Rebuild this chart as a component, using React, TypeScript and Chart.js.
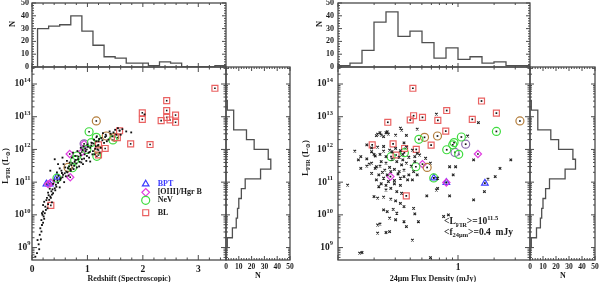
import React, { useEffect, useRef } from 'react';
import { Chart, registerables } from 'chart.js';

Chart.register(...registerables);

// ================= DATA =================
// Top-left histogram: redshift bins
const zHistEdges = [0.1, 0.3, 0.5, 0.7, 0.9, 1.1, 1.3, 1.5, 1.7, 1.9, 2.1, 2.3, 2.5, 2.7, 2.9, 3.1, 3.3, 3.5];
const zHistCounts = [30, 32, 33, 40, 28, 17, 8, 7, 3, 3, 1, 4, 3, 0, 0, 0, 1];

// Top-right histogram: log10 of 24um flux (mJy)
const fluxHistLogEdges = [-1.0, -0.9, -0.8, -0.7, -0.6, -0.5, -0.4, -0.3, -0.2, -0.1, 0.0, 0.1, 0.2, 0.3, 0.4, 0.5, 0.6];
const fluxHistCounts = [1, 3, 13, 35, 43, 24, 28, 19, 7, 15, 6, 8, 3, 4, 1, 1];

// Side histograms: log10 L_FIR
const lfirHistLogEdges = [9.0, 9.3, 9.6, 9.9, 10.2, 10.5, 10.8, 11.1, 11.4, 11.7, 12.0, 12.3, 12.6, 12.9, 13.2, 13.5];
const lfirHistCounts = [1, 5, 8, 9, 10, 12, 15, 27, 35, 33, 22, 16, 6, 6, 1];

// Left panel: [redshift, log10 L_FIR]
const zAll = [
  [0.06, 8.72], [0.09, 8.83], [0.13, 8.95], [0.10, 9.23], [0.14, 9.39], [0.17, 9.49], [0.15, 9.59], [0.18, 9.69],
  [0.20, 9.76], [0.17, 9.84], [0.21, 9.95], [0.19, 10.0], [0.23, 10.05], [0.20, 10.10], [0.25, 10.15], [0.24, 10.25],
  [0.20, 10.30], [0.29, 10.33], [0.22, 10.40], [0.31, 10.46], [0.27, 10.52], [0.33, 10.56], [0.36, 10.62], [0.38, 10.66],
  [0.29, 10.68], [0.35, 10.72], [0.42, 10.75], [0.41, 10.81], [0.32, 10.80], [0.44, 10.86], [0.50, 10.84], [0.38, 10.95],
  [0.47, 10.98], [0.58, 11.0], [0.40, 11.05], [0.51, 11.07], [0.55, 11.15], [0.48, 11.20], [0.56, 11.22], [0.66, 11.20],
  [0.59, 11.27], [0.45, 11.30], [0.62, 11.32], [0.53, 11.35], [0.70, 11.35], [0.75, 11.40], [0.50, 11.42], [0.65, 11.42],
  [0.60, 11.45], [0.85, 11.48], [0.71, 11.52], [0.57, 11.55], [0.92, 11.55], [0.80, 11.57], [0.68, 11.60], [0.77, 11.62],
  [0.86, 11.62], [1.05, 11.63], [0.63, 11.65], [0.98, 11.65], [0.41, 11.70], [0.83, 11.70], [0.90, 11.70], [0.72, 11.75],
  [1.03, 11.75], [0.78, 11.80], [0.88, 11.82], [0.95, 11.85], [1.13, 11.85], [0.74, 11.90], [1.02, 11.90], [1.22, 11.90],
  [0.82, 11.95], [0.97, 11.95], [1.10, 11.95], [1.18, 12.0], [0.88, 12.05], [1.05, 12.05], [0.93, 12.10], [1.15, 12.10],
  [1.00, 12.15], [1.08, 12.20], [1.30, 12.20], [1.20, 12.25], [1.12, 12.30], [1.38, 12.30], [1.25, 12.35], [1.17, 12.40],
  [1.45, 12.40], [1.33, 12.45], [1.60, 12.45], [1.28, 12.50], [1.79, 12.52], [1.40, 12.55], [1.70, 12.55], [1.50, 12.60],
  [1.55, 12.65], [2.03, 13.07],
  [0.26, 10.45], [0.30, 10.60], [0.34, 10.52], [0.37, 10.78], [0.43, 10.92], [0.46, 11.05], [0.52, 11.12], [0.54, 11.28],
  [0.61, 11.18], [0.64, 11.30], [0.67, 11.48], [0.69, 11.40], [0.73, 11.58], [0.76, 11.50], [0.79, 11.68], [0.81, 11.45],
  [0.84, 11.78], [0.87, 11.88], [0.89, 11.60], [0.91, 11.98], [0.94, 11.72], [0.96, 12.02], [0.99, 11.80], [1.01, 12.08],
  [1.04, 11.92], [1.07, 12.12], [1.09, 11.85], [1.11, 12.18], [1.14, 12.02], [1.16, 12.25], [1.19, 12.12], [1.21, 12.32],
  [1.24, 12.05], [1.27, 12.28], [1.32, 12.38], [1.35, 12.25], [1.42, 12.48], [1.47, 12.52], [1.52, 12.45], [1.58, 12.58],
  [1.63, 12.62], [0.16, 9.25], [0.12, 9.10], [0.22, 9.88], [0.28, 10.20], [0.18, 10.05], [0.36, 10.38], [0.33, 11.35],
  [0.47, 11.55], [0.55, 11.75],
];
const zBL = [
  [3.30, 13.87], [2.43, 13.49], [2.43, 13.19], [1.99, 13.12], [1.99, 12.92], [2.59, 13.05], [2.59, 12.83], [2.33, 12.88],
  [2.43, 12.98], [2.49, 12.90], [1.58, 12.57], [1.54, 12.36], [1.78, 12.17], [2.13, 12.15], [1.32, 12.03], [1.20, 12.14],
  [1.20, 11.83], [0.34, 10.29],
];
const zNeVBL = [[1.16, 12.87], [1.34, 12.41], [1.49, 12.37], [0.65, 11.45], [1.20, 11.98]];
const zNeV = [
  [1.03, 12.54], [1.16, 12.37], [1.07, 12.21], [0.99, 12.00], [1.46, 12.29], [1.17, 11.79], [0.81, 11.80], [0.77, 11.68],
  [0.73, 11.44], [0.45, 11.12],
];
const zNeVOIII = [[0.94, 12.17]];
const zOIII = [[0.94, 12.17], [0.90, 11.92], [0.68, 11.86], [0.69, 11.15], [0.29, 10.94], [0.34, 10.98]];
const zBPT = [[0.45, 11.15], [0.26, 10.94], [0.32, 10.94]];

// Right panel: [log10 f24 (mJy), log10 L_FIR]
const fAll = [
  [-0.18, 13.08], [0.17, 12.82], [0.08, 12.41], [-0.48, 12.65], [-0.67, 12.47], [-0.64, 12.44], [-0.60, 12.51], [-0.59, 12.54],
  [-0.65, 12.51], [-0.68, 12.42], [-0.62, 12.39], [-0.58, 12.47], [-0.52, 12.44], [-0.47, 12.59], [-0.34, 12.62], [-0.43, 12.43],
  [-0.76, 12.14], [-0.72, 12.05], [-0.67, 12.07], [-0.62, 12.09], [-0.57, 11.98], [-0.52, 12.03], [-0.48, 11.96], [-0.43, 12.07],
  [-0.38, 11.98], [-0.34, 11.88], [-0.72, 11.93], [-0.81, 11.78], [-0.76, 11.71], [-0.69, 11.80], [-0.65, 11.85], [-0.60, 11.78],
  [-0.55, 11.93], [-0.49, 11.76], [-0.46, 11.68], [-0.41, 11.76], [-0.36, 11.78], [-0.32, 11.83], [-0.27, 11.73], [-0.23, 11.58],
  [-0.83, 11.68], [-0.81, 11.42], [-0.76, 11.49], [-0.72, 11.58], [-0.68, 11.47], [-0.64, 11.63], [-0.60, 11.58], [-0.51, 11.63],
  [-0.47, 11.53], [-0.43, 11.58], [-0.39, 11.49], [-0.36, 11.63], [-0.69, 11.42], [-0.65, 11.49], [-0.61, 11.37], [-0.59, 11.22],
  [-0.72, 11.27], [-0.66, 11.22], [-0.62, 11.12], [-0.56, 11.32], [-0.53, 11.39], [-0.49, 11.32], [-0.45, 11.37], [-0.41, 11.22],
  [-0.37, 11.32], [-0.34, 11.22], [-0.68, 11.07], [-0.64, 10.95], [-0.58, 11.02], [-0.53, 10.95], [-0.48, 11.12], [-0.45, 11.17],
  [-0.42, 11.07], [-0.38, 11.07], [-0.17, 11.12], [-0.04, 11.22], [-0.02, 11.47], [-0.07, 11.47], [0.13, 11.68], [-0.17, 10.81],
  [0.35, 11.42], [0.44, 11.68], [0.25, 11.09], [0.31, 11.17], [-0.66, 10.86], [-0.60, 10.76], [-0.56, 10.81], [-0.51, 10.71],
  [-0.47, 10.66], [-0.70, 10.56], [-0.67, 10.51], [-0.62, 10.54], [-0.56, 10.48], [-0.52, 10.43], [-0.48, 10.35], [-0.62, 10.15],
  [-0.59, 10.10], [-0.54, 10.17], [-0.51, 10.05], [-0.45, 10.25], [-0.37, 10.20], [-0.26, 10.58], [-0.18, 10.76], [-0.07, 10.58],
  [0.13, 10.46], [0.22, 10.71], [-0.57, 9.90], [-0.52, 9.85], [-0.67, 9.69], [-0.65, 9.72], [-0.45, 9.79], [-0.36, 10.03],
  [-0.33, 9.79], [-0.67, 9.44], [-0.60, 9.46], [-0.57, 9.49], [-0.43, 9.64], [-0.38, 9.23], [-0.80, 8.85], [-0.82, 8.83],
  [-0.08, 10.0], [-0.92, 10.91], [-0.23, 8.69], [-0.12, 9.95],
  [-0.70, 11.85], [-0.62, 11.95], [-0.55, 11.70], [-0.46, 11.85], [-0.74, 11.55], [-0.57, 11.45], [-0.50, 11.25], [-0.63, 11.30],
  [-0.53, 11.05], [-0.60, 10.90], [-0.48, 10.90], [-0.86, 11.95], [-0.45, 12.20],
];
const fBL = [
  [-0.376, 13.87], [0.196, 13.48], [-0.094, 13.19], [-0.37, 13.03], [-0.296, 12.98], [-0.168, 12.89], [0.320, 13.11], [0.119, 12.92],
  [-0.585, 12.83], [-0.398, 12.90], [-0.102, 12.56], [-0.715, 12.14], [-0.541, 12.17], [-0.445, 12.03], [-0.348, 12.0], [-0.516, 11.83],
  [-0.224, 12.13], [-0.431, 10.58],
];
const fNeVBL = [[0.516, 12.87], [-0.279, 12.37], [-0.171, 12.41], [-0.257, 11.45]];
const fNeVOIII = [[0.064, 12.16], [-0.025, 11.91]];
const fNeV = [
  [0.320, 12.55], [0.028, 12.38], [-0.033, 12.21], [-0.094, 11.99], [0.006, 11.85], [-0.044, 12.14], [-0.326, 12.31], [-0.558, 11.78],
  [-0.447, 11.90], [-0.351, 11.47], [-0.202, 11.13],
];
const fOIII = [[0.166, 11.86], [-0.296, 11.55], [-0.563, 11.17], [-0.097, 10.99]];
const fBPT = [[-0.202, 11.13], [0.224, 10.97], [-0.097, 10.99]];

const zTickLabels = [0, 1, 2, 3];
const lfirTickExps = [9, 10, 11, 12, 13, 14];
const countTickLabels = [0, 10, 20, 30, 40, 50];
const fluxTickLabels = [1];

// ================= STYLE / LAYOUT =================
const W = 600, H = 282;
const SERIF = '"Liberation Serif", "DejaVu Serif", serif';
const INK = '#1a1a1a';
const AXIS = '#4a4a4a';
const HIST = '#505050';
const C_BPT = '#3a3aff', C_OIII = '#e03ce0', C_NEV = '#3fdc3f', C_BL = '#ea6262', C_NEVBL = '#b47e3c', C_NEVOIII = '#8c6cb0';

const L_MIN = 8.62, L_MAX = 14.52;

type Part = { t: string; s?: 'sub' | 'sup' };
type Txt = { x: number; y: number; parts: Part[]; size: number; align?: 'left' | 'center' | 'right'; rot?: boolean; color?: string; bold?: boolean };
type LegItem = { style: string; color: string; x: number; y: number; label: string; labelColor: string };
type Deco = {
  xMajor: number[]; xMinor: number[]; yMajor: number[]; yMinor: number[];
  majLen?: number; minLen?: number;
  xLab?: { items: { v: number; parts: Part[] }[]; y: number; size: number };
  yLab?: { items: { v: number; parts: Part[] }[]; x: number; size: number };
  texts?: Txt[];
  legend?: LegItem[];
};

function drawRich(ctx: CanvasRenderingContext2D, t: Txt) {
  const base = t.size, small = t.size * 0.68;
  const bold = t.bold !== false;
  const fontOf = (p: Part) => `${bold ? 'bold ' : ''}${p.s ? small : base}px ${SERIF}`;
  let total = 0;
  const widths = t.parts.map((p) => { ctx.font = fontOf(p); const w = ctx.measureText(p.t).width; total += w; return w; });
  ctx.save();
  ctx.translate(t.x, t.y);
  if (t.rot) ctx.rotate(-Math.PI / 2);
  let x0 = t.align === 'left' ? 0 : t.align === 'right' ? -total : -total / 2;
  ctx.fillStyle = t.color || INK;
  ctx.textBaseline = 'middle';
  ctx.textAlign = 'left';
  t.parts.forEach((p, i) => {
    ctx.font = fontOf(p);
    const dy = p.s === 'sub' ? base * 0.3 : p.s === 'sup' ? -base * 0.4 : 0;
    ctx.fillText(p.t, x0, dy);
    x0 += widths[i];
  });
  ctx.restore();
}

function drawShape(ctx: CanvasRenderingContext2D, style: string, x: number, y: number, r: number) {
  ctx.beginPath();
  if (style === 'triangle') {
    ctx.moveTo(x, y - r); ctx.lineTo(x + r * 0.866, y + r * 0.5); ctx.lineTo(x - r * 0.866, y + r * 0.5); ctx.closePath();
  } else if (style === 'rectRot') {
    ctx.moveTo(x, y - r); ctx.lineTo(x + r, y); ctx.lineTo(x, y + r); ctx.lineTo(x - r, y); ctx.closePath();
  } else if (style === 'circle') {
    ctx.arc(x, y, r, 0, Math.PI * 2);
  } else {
    const s = r * Math.SQRT1_2; ctx.rect(x - s, y - s, 2 * s, 2 * s);
  }
  ctx.stroke();
}

function decoPlugin(d: Deco) {
  return {
    id: 'deco',
    beforeDatasetsDraw(chart: any) {
      const { ctx, chartArea: a } = chart;
      const xs = chart.scales.x, ys = chart.scales.y;
      const M = d.majLen ?? 5, m = d.minLen ?? 2.5;
      ctx.save();
      ctx.strokeStyle = AXIS; ctx.lineWidth = 1;
      ctx.beginPath();
      const vt = (v: number, L: number) => {
        const p = xs.getPixelForValue(v);
        if (p < a.left - 0.5 || p > a.right + 0.5) return;
        ctx.moveTo(p, a.bottom); ctx.lineTo(p, a.bottom - L);
        ctx.moveTo(p, a.top); ctx.lineTo(p, a.top + L);
      };
      const ht = (v: number, L: number) => {
        const p = ys.getPixelForValue(v);
        if (p < a.top - 0.5 || p > a.bottom + 0.5) return;
        ctx.moveTo(a.left, p); ctx.lineTo(a.left + L, p);
        ctx.moveTo(a.right, p); ctx.lineTo(a.right - L, p);
      };
      d.xMajor.forEach((v) => vt(v, M)); d.xMinor.forEach((v) => vt(v, m));
      d.yMajor.forEach((v) => ht(v, M)); d.yMinor.forEach((v) => ht(v, m));
      ctx.stroke();
      ctx.lineWidth = 1.3;
      ctx.strokeRect(a.left, a.top, a.right - a.left, a.bottom - a.top);
      ctx.restore();
    },
    afterDraw(chart: any) {
      const { ctx } = chart;
      const xs = chart.scales.x, ys = chart.scales.y;
      if (d.xLab) d.xLab.items.forEach((it) => drawRich(ctx, { x: xs.getPixelForValue(it.v), y: d.xLab!.y, parts: it.parts, size: d.xLab!.size }));
      if (d.yLab) d.yLab.items.forEach((it) => drawRich(ctx, { x: d.yLab!.x, y: ys.getPixelForValue(it.v), parts: it.parts, size: d.yLab!.size, align: 'right' }));
      (d.texts || []).forEach((t) => drawRich(ctx, t));
      (d.legend || []).forEach((li) => {
        ctx.save();
        ctx.strokeStyle = li.color; ctx.lineWidth = 1.2;
        drawShape(ctx, li.style, li.x, li.y, li.style === 'circle' ? 4 : li.style === 'rect' ? 4.2 : 3.8);
        ctx.restore();
        drawRich(ctx, { x: li.x + 12, y: li.y, parts: [{ t: li.label }], size: 8, align: 'left', color: li.labelColor });
      });
    },
  };
}

const range = (a: number, b: number, s: number) => { const r: number[] = []; for (let v = a; v <= b + 1e-9; v += s) r.push(+v.toFixed(6)); return r; };
const logMinor = (lo: number, hi: number) => {
  const r: number[] = [];
  for (let e = Math.floor(lo); e <= Math.ceil(hi); e++) for (let k = 2; k <= 9; k++) { const v = k * 10 ** e; if (v >= 10 ** lo && v <= 10 ** hi) r.push(v); }
  return r;
};

function stepPath(edges: number[], counts: number[]) {
  const out: { e: number; c: number }[] = [{ e: edges[0], c: 0 }];
  counts.forEach((c, i) => { out.push({ e: edges[i], c }, { e: edges[i + 1], c }); });
  out.push({ e: edges[edges.length - 1], c: 0 });
  return out;
}

const pts = (arr: number[][], xf: (v: number) => number) => arr.map(([x, l]) => ({ x: xf(x), y: 10 ** l }));
const ident = (v: number) => v;
const pow10 = (v: number) => 10 ** v;

const marker = (data: any[], style: string, r: number, color: string) => ({
  data, pointStyle: style, pointRadius: r, pointBorderColor: color, pointBackgroundColor: 'rgba(0,0,0,0)', pointBorderWidth: 1.2, showLine: false,
});
const dots = (data: any[], r: number) => ({
  data, pointStyle: 'rect', pointRadius: r, pointBackgroundColor: '#111', pointBorderColor: '#111', pointBorderWidth: 0, showLine: false,
});
const crosses = (data: any[], r: number) => ({
  data, pointStyle: 'crossRot', pointRadius: r, pointBackgroundColor: '#222', pointBorderColor: '#222', pointBorderWidth: 1.1, showLine: false,
});
const histLine = (data: any[]) => ({ data, showLine: true, pointRadius: 0, borderColor: HIST, borderWidth: 1.3, fill: false, tension: 0 });

function makeConfig(area: number[], datasets: any[], scales: any, deco: Deco) {
  return {
    type: 'scatter',
    data: { datasets },
    options: {
      animation: false, responsive: false, maintainAspectRatio: false, devicePixelRatio: 1, events: [],
      layout: { padding: { left: area[0], top: area[1], right: W - area[2], bottom: H - area[3] } },
      plugins: { legend: { display: false }, tooltip: { enabled: false } },
      scales,
    },
    plugins: [decoPlugin(deco)],
  } as any;
}

const yLogScale = { type: 'logarithmic', min: 10 ** L_MIN, max: 10 ** L_MAX, display: false };
const countScale = { type: 'linear', min: 0, max: 50, display: false };
const yMajorLog = lfirTickExps.map((e) => 10 ** e);
const yMinorLog = logMinor(L_MIN, L_MAX);
const countMajor = countTickLabels;
const countMinor = range(0, 50, 2).filter((v) => v % 10 !== 0);
const zMinor = range(0, 3.5, 0.2).filter((v) => Math.abs(v - Math.round(v)) > 1e-6);
const fMajor = [0.1, 1];
const fMinor = [0.2, 0.3, 0.4, 0.5, 0.6, 0.7, 0.8, 0.9, 2, 3];
const lfirYLabels = lfirTickExps.map((e) => ({ v: 10 ** e, parts: [{ t: '10' }, { t: String(e), s: 'sup' as const }] }));
const countLabels = countTickLabels.map((v) => ({ v, parts: [{ t: String(v) }] }));
const lfirTitle: Part[] = [{ t: 'L' }, { t: 'FIR', s: 'sub' }, { t: ' (L' }, { t: '\u2299', s: 'sub' }, { t: ')' }];

function buildConfigs() {
  const cfgs: any[] = [];
  // ---- LEFT: top histogram (redshift)
  cfgs.push(makeConfig([32, 3, 226, 67],
    [histLine(stepPath(zHistEdges, zHistCounts).map((p) => ({ x: p.e, y: p.c })))],
    { x: { type: 'linear', min: 0, max: 3.5, display: false }, y: countScale },
    {
      xMajor: zTickLabels, xMinor: zMinor, yMajor: countMajor, yMinor: countMinor, majLen: 4, minLen: 2,
      yLab: { items: countLabels, x: 29, size: 8 },
      texts: [{ x: 13, y: 24, parts: [{ t: 'N' }], size: 8.5, rot: true }],
    }));
  // ---- LEFT: scatter
  cfgs.push(makeConfig([32, 67, 226, 260],
    [
      dots(pts(zAll, ident), 1.3),
      marker(pts(zBL, ident), 'rect', 4.2, C_BL),
      marker(pts(zNeV, ident), 'circle', 4, C_NEV),
      marker(pts(zNeVBL, ident), 'circle', 4, C_NEVBL),
      marker(pts(zNeVOIII, ident), 'circle', 4, C_NEVOIII),
      marker(pts(zOIII, ident), 'rectRot', 3.6, C_OIII),
      marker(pts(zBPT, ident), 'triangle', 3.8, C_BPT),
      dots(pts([...zBL, ...zNeV, ...zNeVBL, ...zOIII, ...zBPT], ident), 1.1),
    ],
    { x: { type: 'linear', min: 0, max: 3.5, display: false }, y: yLogScale },
    {
      xMajor: zTickLabels, xMinor: zMinor, yMajor: yMajorLog, yMinor: yMinorLog,
      xLab: { items: zTickLabels.map((v) => ({ v, parts: [{ t: String(v) }] })), y: 270, size: 9.5 },
      yLab: { items: lfirYLabels, x: 30.5, size: 9.5 },
      texts: [
        { x: 6, y: 166, parts: lfirTitle, size: 9, rot: true },
        { x: 129, y: 278.5, parts: [{ t: 'Redshift (Spectroscopic)' }], size: 8 },
      ],
      legend: [
        { style: 'triangle', color: C_BPT, x: 145.7, y: 184, label: 'BPT', labelColor: C_BPT },
        { style: 'rectRot', color: C_OIII, x: 145.7, y: 192.3, label: '[OIII]/Hgr B', labelColor: INK },
        { style: 'circle', color: C_NEV, x: 145.7, y: 200.3, label: 'NeV', labelColor: INK },
        { style: 'rect', color: C_BL, x: 145.7, y: 212.7, label: 'BL', labelColor: INK },
      ],
    }));
  // ---- LEFT: side histogram
  cfgs.push(makeConfig([226, 67, 290, 260],
    [histLine(stepPath(lfirHistLogEdges, lfirHistCounts).map((p) => ({ x: p.c, y: 10 ** p.e })))],
    { x: countScale, y: yLogScale },
    {
      xMajor: countMajor, xMinor: countMinor, yMajor: yMajorLog, yMinor: yMinorLog, majLen: 4, minLen: 2,
      xLab: { items: countLabels, y: 267, size: 7.5 },
      texts: [{ x: 258, y: 276, parts: [{ t: 'N' }], size: 8 }],
    }));
  // ---- RIGHT: top histogram (flux)
  cfgs.push(makeConfig([338, 3, 530, 67],
    [histLine(stepPath(fluxHistLogEdges, fluxHistCounts).map((p) => ({ x: 10 ** p.e, y: p.c })))],
    { x: { type: 'logarithmic', min: 0.1, max: 10 ** 0.6, display: false }, y: countScale },
    {
      xMajor: fMajor, xMinor: fMinor, yMajor: countMajor, yMinor: countMinor, majLen: 4, minLen: 2,
      yLab: { items: countLabels, x: 334, size: 8 },
      texts: [{ x: 320, y: 24, parts: [{ t: 'N' }], size: 8.5, rot: true }],
    }));
  // ---- RIGHT: scatter
  cfgs.push(makeConfig([338, 67, 530, 260],
    [
      crosses(pts(fAll, pow10), 1.8),
      marker(pts(fBL, pow10), 'rect', 4.2, C_BL),
      marker(pts(fNeV, pow10), 'circle', 4, C_NEV),
      marker(pts(fNeVBL, pow10), 'circle', 4, C_NEVBL),
      marker(pts(fNeVOIII, pow10), 'circle', 4, C_NEVOIII),
      marker(pts(fOIII, pow10), 'rectRot', 3.6, C_OIII),
      marker(pts(fBPT, pow10), 'triangle', 3.8, C_BPT),
      dots(pts([...fBL, ...fNeV, ...fNeVBL, ...fNeVOIII, ...fOIII, ...fBPT], pow10), 1.2),
    ],
    { x: { type: 'logarithmic', min: 0.1, max: 10 ** 0.6, display: false }, y: yLogScale },
    {
      xMajor: fMajor, xMinor: fMinor, yMajor: yMajorLog, yMinor: yMinorLog,
      xLab: { items: fluxTickLabels.map((v) => ({ v, parts: [{ t: String(v) }] })), y: 267.5, size: 9.5 },
      yLab: { items: lfirYLabels, x: 333, size: 9.5 },
      texts: [
        { x: 306, y: 158, parts: lfirTitle, size: 9, rot: true },
        { x: 433, y: 279, parts: [{ t: '24\u03bcm Flux Density (mJy)' }], size: 8 },
        { x: 444, y: 222, parts: [{ t: '<L' }, { t: 'FIR', s: 'sub' }, { t: '>=10' }, { t: '11.5', s: 'sup' }], size: 9.5, align: 'left' },
        { x: 444, y: 232.5, parts: [{ t: '<f' }, { t: '24\u03bcm', s: 'sub' }, { t: '>=0.4  mJy' }], size: 9.5, align: 'left' },
      ],
    }));
  // ---- RIGHT: side histogram
  cfgs.push(makeConfig([530, 67, 595, 260],
    [histLine(stepPath(lfirHistLogEdges, lfirHistCounts).map((p) => ({ x: p.c, y: 10 ** p.e })))],
    { x: countScale, y: yLogScale },
    {
      xMajor: countMajor, xMinor: countMinor, yMajor: yMajorLog, yMinor: yMinorLog, majLen: 4, minLen: 2,
      xLab: { items: countLabels, y: 267, size: 7.5 },
      texts: [{ x: 563, y: 276, parts: [{ t: 'N' }], size: 8 }],
    }));
  return cfgs;
}

export default function App() {
  const r0 = useRef<HTMLCanvasElement>(null);
  const r1 = useRef<HTMLCanvasElement>(null);
  const r2 = useRef<HTMLCanvasElement>(null);
  const r3 = useRef<HTMLCanvasElement>(null);
  const r4 = useRef<HTMLCanvasElement>(null);
  const r5 = useRef<HTMLCanvasElement>(null);
  const refs = [r0, r1, r2, r3, r4, r5];

  useEffect(() => {
    const cfgs = buildConfigs();
    const charts = cfgs.map((cfg, i) => new Chart(refs[i].current as HTMLCanvasElement, cfg));
    return () => charts.forEach((c) => c.destroy());
  }, []);

  return (
    <div style={{ position: 'absolute', left: 0, top: 0, width: W, height: H, background: '#fff' }}>
      {refs.map((r, i) => (
        <canvas key={i} ref={r} width={W} height={H}
          style={{ position: 'absolute', left: 0, top: 0, width: W, height: H }} />
      ))}
    </div>
  );
}
